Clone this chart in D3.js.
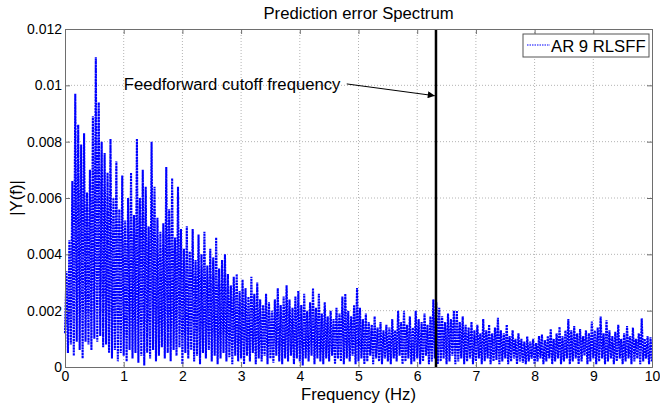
<!DOCTYPE html>
<html>
<head>
<meta charset="utf-8">
<script src="https://cdn.jsdelivr.net/npm/d3@7"></script>
<style>
body { margin: 0; background: #fff; }
text { font-family: "Liberation Sans", Arial, sans-serif; fill: #000; }
</style>
</head>
<body>
<script>
// spectrum: one spike top per 0.05 Hz bin, one trough at each bin edge
var binWidth = 0.05;
var peaks = [
  .0034, .0045, .0066, .0097, .0086, .0079, .0083, .0062, .0070, .0089,
  .0110, .0094, .0080, .0076, .0069, .0081, .0060, .0073, .0056, .0068,
  .0052, .0060, .0069, .0054, .0081, .0060, .0070, .0064, .0050, .0080,
  .0064, .0053, .0048, .0051, .0071, .0056, .0067, .0046, .0064, .0049,
  .0042, .0050, .0041, .0049, .0038, .0047, .0040, .0048, .0036, .0042,
  .0039, .0046, .0035, .0038, .0040, .0033, .0029, .0032, .0033, .0027,
  .0031, .0028, .0025, .0032, .0026, .0030, .0024, .0022, .0026, .0023,
  .0020, .0024, .0028, .0022, .0025, .0029, .0024, .0021, .0025, .0027,
  .0022, .0026, .0020, .0023, .0028, .0021, .0026, .0019, .0023, .0018,
  .0020, .0017, .0021, .0019, .0025, .0026, .0020, .0018, .0022, .0028,
  .0021, .0017, .0019, .0016, .0015, .0018, .0014, .0016, .0013, .0015,
  .0014, .0017, .0013, .0020, .0016, .0020, .0015, .0018, .0014, .0020,
  .0017, .0016, .0019, .0015, .0018, .0024, .0023, .0021, .0018, .0016,
  .0019, .0017, .0020, .0020, .0016, .0018, .0015, .0014, .0016, .0013,
  .0015, .0012, .0017, .0013, .0015, .0012, .0014, .00175, .0013, .0012,
  .0015, .0011, .0013, .0010, .0012, .0010, .0009, .00108, .0009, .0010,
  .00085, .0011, .00115, .00095, .0011, .00135, .0010, .0012, .00142, .0011,
  .0013, .0017, .0013, .00145, .0012, .00135, .0011, .0013, .0012, .00161,
  .0013, .0014, .00179, .0012, .00166, .0013, .0011, .00125, .0015, .0010,
  .0012, .00145, .0011, .0014, .0010, .0012, .00173, .0010, .0011, .00105
];
var troughs = [
  .0012, .0005, .0008, .0004, .0009, .0006, .0003, .0009, .0008, .0006,
  .0010, .0009, .0011, .0007, .0008, .0005, .0003, .0006, .0002, .0005,
  .0004, .0002, .0006, .0003, .0005, .00015, .0004, .00005, .0005, .0003,
  .0006, .0002, .0004, .0007, .0003, .0005, .0002, .0006, .0004, .0007,
  .0001, .0005, .0003, .0006, .0002, .0004, .0001, .0005, .0003, .0006,
  .0002, .0004, .0001, .0003, .0005, .0002, .00035, .0001, .0004, .0002,
  .0003, .0001, .0004, .0002, .0005, .0001, .0003, .0002, .0004, .0001,
  .0003, .00015, .0004, .0002, .0001, .0003, .0002, .0004, .0001, .0003,
  .0002, .00005, .0003, .0002, .0004, .0001, .0003, .0002, .0001, .0003,
  .0002, .0004, .0001, .0003, .0002, .0001, .0003, .0002, .0004, .0001,
  .0002, .0003, .0001, .0002, .0004, .0001, .0003, .0002, .0001, .0003,
  .0002, .0001, .0003, .0002, .0004, .0001, .0002, .0003, .0001, .0002,
  .0003, .0001, .0002, .0004, .0001, .0002, .0003, .0001, .0002, .0003,
  .0001, .0002, .0004, .0001, .0002, .0003, .0001, .0002, .0003, .0001,
  .0002, .0003, .0001, .0002, .0003, .0001, .0002, .00025, .0001, .0002,
  .0003, .0001, .0002, .0003, .0001, .0002, .00015, .0001, .0002, .0003,
  .0001, .0002, .0003, .0001, .0002, .0003, .0001, .0002, .0003, .0001,
  .0002, .0003, .0001, .0002, .0003, .0001, .0002, .0004, .0001, .0002,
  .0003, .0001, .0002, .0003, .0001, .0002, .0003, .0001, .0002, .0003,
  .0001, .0002, .0003, .0001, .0002, .0003, .0001, .0002, .0003, .0001,
  .0002
];
var xTicks = [0, 1, 2, 3, 4, 5, 6, 7, 8, 9, 10];
var yTicks = [0, 0.002, 0.004, 0.006, 0.008, 0.01, 0.012];
var yTickLabels = ["0", "0.002", "0.004", "0.006", "0.008", "0.01", "0.012"];
var cutoffFreq = 6.32;
var seriesName = "AR 9 RLSFF";

var W = 660, H = 410;
var margin = {top: 29, right: 8, bottom: 43, left: 65};
var width = W - margin.left - margin.right,
    height = H - margin.top - margin.bottom;

var x = d3.scaleLinear().domain([0, 10]).range([0, width]);
var y = d3.scaleLinear().domain([0, 0.012]).range([height, 0]);

var svg = d3.select("body").append("svg")
    .attr("width", W)
    .attr("height", H);
var g = svg.append("g")
    .attr("transform", "translate(" + margin.left + "," + margin.top + ")");

// grid
g.append("g").selectAll("line")
  .data(xTicks.slice(1, -1))
.enter().append("line")
  .attr("x1", function(d) { return x(d); }).attr("x2", function(d) { return x(d); })
  .attr("y1", 0).attr("y2", height)
  .attr("stroke", "#b4b4b4").attr("stroke-dasharray", "1,2");
g.append("g").selectAll("line")
  .data(yTicks.slice(1, -1))
.enter().append("line")
  .attr("y1", function(d) { return y(d); }).attr("y2", function(d) { return y(d); })
  .attr("x1", 0).attr("x2", width)
  .attr("stroke", "#b4b4b4").attr("stroke-dasharray", "1,2");

// series: trough, peak, trough, peak ...
var pts = [];
troughs.forEach(function(t, i) {
    pts.push([i * binWidth, t]);
    if (i < peaks.length) pts.push([(i + 0.5) * binWidth, peaks[i]]);
});
var line = d3.line()
    .x(function(d) { return x(d[0]); })
    .y(function(d) { return y(d[1]); });
g.append("path")
  .datum(pts)
  .attr("d", line)
  .attr("fill", "none")
  .attr("stroke", "#0000ff")
  .attr("stroke-width", 2.1)
  .attr("stroke-dasharray", "2.2,0.7");

// cutoff line
g.append("line")
  .attr("x1", x(cutoffFreq)).attr("x2", x(cutoffFreq))
  .attr("y1", 0).attr("y2", height)
  .attr("stroke", "#000").attr("stroke-width", 2.5);

// axes, MATLAB style ticks inside on all sides
var tickLen = 5;
var axB = d3.axisBottom(x).tickValues(xTicks).tickSize(-tickLen).tickPadding(4).tickFormat(d3.format("d"));
var axT = d3.axisTop(x).tickValues(xTicks).tickSize(-tickLen).tickFormat("");
var axL = d3.axisLeft(y).tickValues(yTicks).tickSize(-tickLen).tickPadding(3)
    .tickFormat(function(d, i) { return yTickLabels[i]; });
var axR = d3.axisRight(y).tickValues(yTicks).tickSize(-tickLen).tickFormat("");

function styleAxis(sel) {
    sel.selectAll("path, line").attr("stroke", "#6e6e6e");
    sel.selectAll("text").style("font-size", "14px").attr("fill", "#000");
}
g.append("g").attr("transform", "translate(0," + height + ")").call(axB).call(styleAxis);
g.append("g").call(axT).call(styleAxis);
g.append("g").call(axL).call(styleAxis);
g.append("g").attr("transform", "translate(" + width + ",0)").call(axR).call(styleAxis);
g.selectAll(".domain").attr("stroke", "#6e6e6e");

// labels
svg.append("text")
  .attr("x", margin.left + width / 2).attr("y", 19)
  .attr("text-anchor", "middle").style("font-size", "16.7px")
  .text("Prediction error Spectrum");
svg.append("text")
  .attr("x", margin.left + width / 2).attr("y", 400)
  .attr("text-anchor", "middle").style("font-size", "16.7px")
  .text("Frequency (Hz)");
svg.append("text")
  .attr("transform", "translate(22," + (margin.top + height / 2) + ") rotate(-90)")
  .attr("text-anchor", "middle").style("font-size", "16.7px")
  .text("|Y(f)|");

// annotation
svg.append("defs").append("marker")
  .attr("id", "arr").attr("viewBox", "0 0 10 10")
  .attr("refX", 10).attr("refY", 5)
  .attr("markerWidth", 9).attr("markerHeight", 7)
  .attr("markerUnits", "userSpaceOnUse")
  .attr("orient", "auto")
.append("path").attr("d", "M0,0L10,5L0,10z").attr("fill", "#000");
g.append("text")
  .attr("x", x(1.0)).attr("y", y(0.00984))
  .style("font-size", "16.7px")
  .text("Feedforward cutoff frequency");
g.append("line")
  .attr("x1", x(4.8)).attr("y1", y(0.01005))
  .attr("x2", x(6.3)).attr("y2", y(0.00963))
  .attr("stroke", "#000").attr("stroke-width", 1)
  .attr("marker-end", "url(#arr)");

// legend
var lg = svg.append("g").attr("transform", "translate(523,34)");
lg.append("rect").attr("width", 126).attr("height", 23)
  .attr("fill", "#fff").attr("stroke", "#555");
lg.append("line").attr("x1", 4).attr("x2", 27).attr("y1", 11).attr("y2", 11)
  .attr("stroke", "#0000ff").attr("stroke-width", 1.2).attr("stroke-dasharray", "1.5,1");
lg.append("text").attr("x", 28).attr("y", 17.5).style("font-size", "16.7px").text(seriesName);
</script>
</body>
</html>
